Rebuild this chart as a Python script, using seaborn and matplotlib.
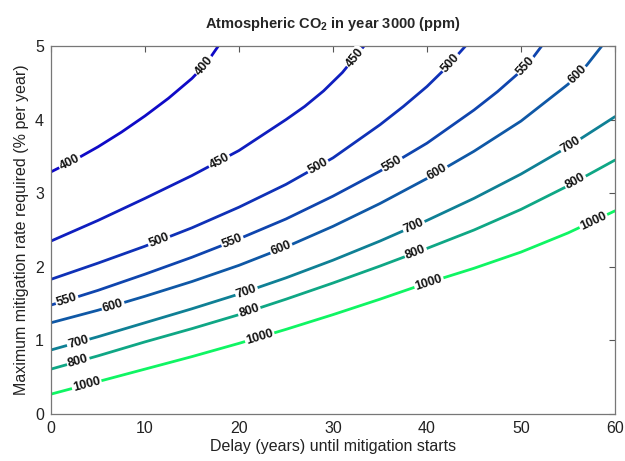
import numpy as np
import pandas as pd
import matplotlib
matplotlib.use("Agg")
import matplotlib.pyplot as plt
import seaborn as sns

# ---- data (delay in years, required rate in % per year) ----
levels = [400, 450, 500, 550, 600, 700, 800, 1000]

x_400 = [0, 2.5, 5, 7.5, 10, 12.5, 15, 16.5, 17.8]
y_400 = [3.29, 3.45, 3.63, 3.83, 4.05, 4.29, 4.56, 4.76, 5.0]

x_450 = [0, 5, 10, 15, 20, 25, 27, 29, 31, 33.3]
y_450 = [2.35, 2.63, 2.93, 3.24, 3.58, 4.0, 4.18, 4.39, 4.64, 5.0]

x_500 = [0, 5, 10, 15, 20, 25, 30, 35, 37.5, 40, 42, 44.1]
y_500 = [1.83, 2.05, 2.28, 2.53, 2.81, 3.12, 3.48, 3.93, 4.18, 4.45, 4.7, 5.0]

x_550 = [0, 5, 10, 15, 20, 25, 30, 35, 40, 45, 47.5, 50, 51.2, 52.2]
y_550 = [1.48, 1.68, 1.9, 2.13, 2.38, 2.65, 2.96, 3.3, 3.68, 4.13, 4.38, 4.66, 4.83, 5.0]

x_600 = [0, 5, 10, 15, 20, 25, 30, 35, 40, 45, 50, 55, 57, 58.6]
y_600 = [1.24, 1.41, 1.6, 1.8, 2.02, 2.27, 2.55, 2.86, 3.2, 3.57, 3.98, 4.48, 4.74, 5.0]

x_700 = [0, 5, 10, 15, 20, 25, 30, 35, 40, 45, 50, 55, 60]
y_700 = [0.87, 1.05, 1.24, 1.43, 1.63, 1.85, 2.09, 2.35, 2.63, 2.93, 3.26, 3.63, 4.04]

x_800 = [0, 5, 10, 15, 20, 25, 30, 35, 40, 45, 50, 55, 60]
y_800 = [0.61, 0.79, 0.98, 1.16, 1.35, 1.56, 1.78, 2.01, 2.25, 2.5, 2.78, 3.1, 3.45]

x_1000 = [0, 5, 10, 15, 20, 25, 30, 35, 40, 45, 50, 55, 60]
y_1000 = [0.27, 0.44, 0.61, 0.78, 0.96, 1.15, 1.35, 1.56, 1.78, 1.98, 2.2, 2.46, 2.76]

# x positions of the inline contour labels
label_x = {
    400: [2.0, 16.3],
    450: [17.9, 32.3],
    500: [11.5, 28.4, 42.5],
    550: [1.7, 19.3, 36.3, 50.5],
    600: [6.6, 24.5, 41.1, 56.0],
    700: [2.9, 20.8, 38.6, 55.3],
    800: [2.9, 21.1, 38.8, 55.8],
    1000: [3.8, 22.2, 40.2, 57.7],
}

xticks = [0, 10, 20, 30, 40, 50, 60]
yticks = [0, 1, 2, 3, 4, 5]

curves = {
    400: (x_400, y_400), 450: (x_450, y_450), 500: (x_500, y_500),
    550: (x_550, y_550), 600: (x_600, y_600), 700: (x_700, y_700),
    800: (x_800, y_800), 1000: (x_1000, y_1000),
}

rows = []
for lev in levels:
    xs, ys = curves[lev]
    for xv, yv in zip(xs, ys):
        rows.append({"delay": xv, "rate": yv, "level": lev})
df = pd.DataFrame(rows)

# ---- style ----
sns.set_style("white")
plt.rcParams["font.family"] = ["Liberation Sans", "DejaVu Sans"]
plt.rcParams["mathtext.fontset"] = "custom"
plt.rcParams["mathtext.rm"] = "Liberation Sans"
plt.rcParams["mathtext.bf"] = "Liberation Sans:bold"

cmap = plt.get_cmap("winter")
lo, hi = min(levels), max(levels)
palette = {}
for lev in levels:
    r, g, b, _ = cmap((lev - lo) / (hi - lo))
    palette[lev] = (r * 0.9 + 0.06, g * 0.92 + 0.04, b * 0.78)

fig = plt.figure(figsize=(6.25, 4.61), dpi=100)
ax = fig.add_axes([51 / 625, 47 / 461, (615 - 51) / 625, (414 - 46) / 461])

sns.lineplot(data=df, x="delay", y="rate", hue="level", palette=palette,
             estimator=None, sort=False, legend=False, linewidth=2.0, ax=ax)

ax.set_xlim(0, 60)
ax.set_ylim(0, 5)
ax.set_xticks(xticks)
ax.set_yticks(yticks)
ax.tick_params(direction="in", length=4, width=0.8, colors="#555555",
               labelcolor="#222222", labelsize=11.5, top=True, right=True,
               pad=5)
for s in ax.spines.values():
    s.set_color("#777777")
    s.set_linewidth(0.9)
    s.set_visible(True)

ax.set_xlabel("Delay (years) until mitigation starts", fontsize=11.5,
              color="#222222", labelpad=2)
ax.set_ylabel("Maximum mitigation rate required (% per year)", fontsize=11.5,
              color="#222222", labelpad=4)
ax.set_title(r"Atmospheric CO$_\mathbf{2}$ in year 3000 (ppm)", fontsize=10.5,
             fontweight="bold", pad=13)

# ---- inline contour labels ----
fig.canvas.draw()
for lev in levels:
    xs, ys = curves[lev]
    for lx in label_x[lev]:
        ly = float(np.interp(lx, xs, ys))
        ya = float(np.interp(lx - 0.8, xs, ys))
        yb = float(np.interp(lx + 0.8, xs, ys))
        p1 = ax.transData.transform((lx - 0.8, ya))
        p2 = ax.transData.transform((lx + 0.8, yb))
        ang = np.degrees(np.arctan2(p2[1] - p1[1], p2[0] - p1[0]))
        ax.text(lx, ly, str(lev), rotation=ang, rotation_mode="anchor",
                ha="center", va="center", fontsize=9, fontweight="bold",
                color="#111111",
                bbox=dict(boxstyle="square,pad=0.1", fc="white", ec="none"),
                zorder=5, clip_on=True)

fig.savefig("out.png", dpi=100)
